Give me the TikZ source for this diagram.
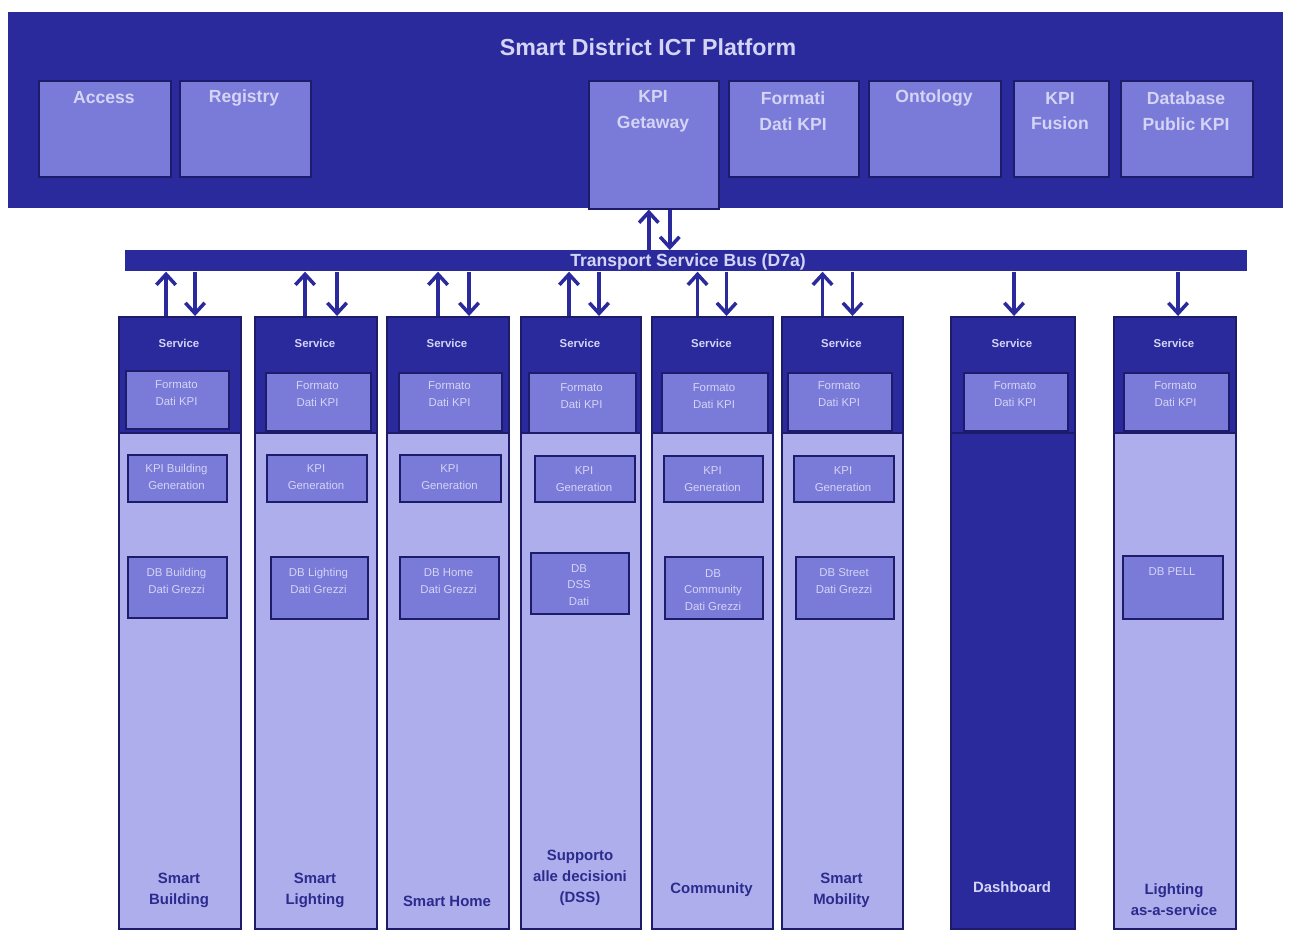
\documentclass[tikz,border=0pt]{standalone}
\usepackage{fontspec}
\setmainfont{Liberation Sans}
\usepackage{tikz}
\usetikzlibrary{arrows.meta}

\definecolor{platblue}{HTML}{2A2A9C}
\definecolor{edgeblue}{HTML}{1C1C6A}
\definecolor{midblue}{HTML}{7A7AD8}
\definecolor{paleblue}{HTML}{AEAEEC}
\definecolor{lighttext}{HTML}{D4D4F6}
\definecolor{darktext}{HTML}{2B2B8E}

\tikzset{
  platform/.style={rectangle, anchor=north west, inner sep=0pt, fill=platblue},
  pane/.style={rectangle, anchor=north west, inner sep=0pt, fill=midblue, draw=edgeblue, line width=0.9pt},
  column/.style={rectangle, anchor=north west, inner sep=0pt, fill=paleblue, draw=edgeblue, line width=1.2pt, minimum height=12.24cm},
  header/.style={rectangle, anchor=north west, inner sep=0pt, fill=platblue, draw=edgeblue, line width=1.2pt, minimum height=2.32cm},
  titletxt/.style={inner sep=0pt, text=lighttext, font=\bfseries\fontsize{13.2}{16}\selectfont},
  panetxt/.style={inner sep=0pt, align=center, text=lighttext, font=\bfseries\fontsize{10}{14.7}\selectfont},
  svctxt/.style={inner sep=0pt, text=lighttext, font=\bfseries\fontsize{6.5}{8}\selectfont},
  tinytxt/.style={inner sep=0pt, align=center, text=lighttext, font=\fontsize{6.5}{9.5}\selectfont},
  colname/.style={inner sep=0pt, align=center, text=darktext, font=\bfseries\fontsize{8.5}{12}\selectfont},
  arr/.style={draw=platblue, line width=2pt, -{Straight Barb[length=6pt,width=11pt]}}
}

\begin{document}
\begin{tikzpicture}[x=0.02cm, y=-0.02cm]
    \fill[white] (0,0) rectangle (1290,930);
    \useasboundingbox (0,0) rectangle (1290,930);

    \node[platform, minimum width=25.5cm, minimum height=3.92cm] (plat) at (8,12) {};
    \node[titletxt] (title) at (648,47) {Smart District ICT Platform};

    \node[pane, minimum width=2.64cm, minimum height=1.92cm] (access) at (38,80) {};
    \node[panetxt] (taccess) at (104,98) {Access};
    \node[pane, minimum width=2.62cm, minimum height=1.92cm] (registry) at (179,80) {};
    \node[panetxt] (tregistry) at (244,98) {Registry};
    \node[pane, minimum width=2.6cm, minimum height=2.56cm] (gw) at (588,80) {};
    \node[panetxt] (tgw) at (653,111) {KPI\\Getaway};
    \node[pane, minimum width=2.6cm, minimum height=1.92cm] (formati) at (728,80) {};
    \node[panetxt] (tformati) at (793,111) {Formati\\Dati KPI};
    \node[pane, minimum width=2.64cm, minimum height=1.92cm] (ontology) at (868,80) {};
    \node[panetxt] (tontology) at (934,98) {Ontology};
    \node[pane, minimum width=1.9cm, minimum height=1.92cm] (fusion) at (1013,80) {};
    \node[panetxt] (tfusion) at (1060,111) {KPI\\Fusion};
    \node[pane, minimum width=2.64cm, minimum height=1.92cm] (dbpub) at (1120,80) {};
    \node[panetxt] (tdbpub) at (1186,111) {Database\\Public KPI};

    \node[platform, minimum width=22.44cm, minimum height=0.42cm] (bus) at (125,250) {};
    \node[panetxt] (tbus) at (688,262) {Transport Service Bus (D7a)};

    \draw[arr] ([xshift=-0.1cm]gw.south |- bus.north) -- ([xshift=-0.1cm]gw.south);
    \draw[arr] ([xshift=0.32cm]gw.south) -- ([xshift=0.32cm]gw.south |- bus.north);

    \node[column, minimum width=2.44cm] (c1) at (118,316) {};
    \node[header, minimum width=2.44cm] (h1) at (118,316) {};
    \node[svctxt] (s1) at (179,343) {Service};
    \node[pane, minimum width=2.06cm, minimum height=1.16cm] (f1) at (125,370) {};
    \node[tinytxt] (tf1) at (176.5,393) {Formato\\Dati KPI};
    \node[pane, minimum width=1.98cm, minimum height=0.94cm] (k1) at (127,454) {};
    \node[tinytxt] (tk1) at (176.5,477) {KPI Building\\Generation};
    \node[pane, minimum width=1.98cm, minimum height=1.22cm] (d1) at (127,556) {};
    \node[tinytxt] (td1) at (176.5,581) {DB Building\\Dati Grezzi};
    \node[colname] (n1) at (179,890) {Smart\\Building};

    \node[column, minimum width=2.44cm] (c2) at (254,316) {};
    \node[header, minimum width=2.44cm] (h2) at (254,316) {};
    \node[svctxt] (s2) at (315,343) {Service};
    \node[pane, minimum width=2.1cm, minimum height=1.16cm] (f2) at (265,372) {};
    \node[tinytxt] (tf2) at (317.5,394) {Formato\\Dati KPI};
    \node[pane, minimum width=2cm, minimum height=0.94cm] (k2) at (266,454) {};
    \node[tinytxt] (tk2) at (316,477) {KPI\\Generation};
    \node[pane, minimum width=1.94cm, minimum height=1.24cm] (d2) at (270,556) {};
    \node[tinytxt] (td2) at (318.5,581) {DB Lighting\\Dati Grezzi};
    \node[colname] (n2) at (315,890) {Smart\\Lighting};

    \node[column, minimum width=2.44cm] (c3) at (386,316) {};
    \node[header, minimum width=2.44cm] (h3) at (386,316) {};
    \node[svctxt] (s3) at (447,343) {Service};
    \node[pane, minimum width=2.06cm, minimum height=1.16cm] (f3) at (398,372) {};
    \node[tinytxt] (tf3) at (449.5,394) {Formato\\Dati KPI};
    \node[pane, minimum width=2.02cm, minimum height=0.94cm] (k3) at (399,454) {};
    \node[tinytxt] (tk3) at (449.5,477) {KPI\\Generation};
    \node[pane, minimum width=1.98cm, minimum height=1.24cm] (d3) at (399,556) {};
    \node[tinytxt] (td3) at (448.5,581) {DB Home\\Dati Grezzi};
    \node[colname] (n3) at (447,901) {Smart Home};

    \node[column, minimum width=2.4cm] (c4) at (520,316) {};
    \node[header, minimum width=2.4cm] (h4) at (520,316) {};
    \node[svctxt] (s4) at (580,343) {Service};
    \node[pane, minimum width=2.14cm, minimum height=1.2cm] (f4) at (528,372) {};
    \node[tinytxt] (tf4) at (581.5,396) {Formato\\Dati KPI};
    \node[pane, minimum width=2cm, minimum height=0.92cm] (k4) at (534,455) {};
    \node[tinytxt] (tk4) at (584,479) {KPI\\Generation};
    \node[pane, minimum width=1.96cm, minimum height=1.22cm] (d4) at (530,552) {};
    \node[tinytxt] (td4) at (579,585) {DB\\DSS\\Dati};
    \node[colname] (n4) at (580,878) {Supporto\\alle decisioni\\(DSS)};

    \node[column, minimum width=2.42cm] (c5) at (651,316) {};
    \node[header, minimum width=2.42cm] (h5) at (651,316) {};
    \node[svctxt] (s5) at (711.5,343) {Service};
    \node[pane, minimum width=2.12cm, minimum height=1.2cm] (f5) at (661,372) {};
    \node[tinytxt] (tf5) at (714,396) {Formato\\Dati KPI};
    \node[pane, minimum width=1.98cm, minimum height=0.92cm] (k5) at (663,455) {};
    \node[tinytxt] (tk5) at (712.5,479) {KPI\\Generation};
    \node[pane, minimum width=1.96cm, minimum height=1.24cm] (d5) at (664,556) {};
    \node[tinytxt] (td5) at (713,590) {DB\\Community\\Dati Grezzi};
    \node[colname] (n5) at (711.5,890) {Community};

    \node[column, minimum width=2.42cm] (c6) at (781,316) {};
    \node[header, minimum width=2.42cm] (h6) at (781,316) {};
    \node[svctxt] (s6) at (841.5,343) {Service};
    \node[pane, minimum width=2.08cm, minimum height=1.16cm] (f6) at (787,372) {};
    \node[tinytxt] (tf6) at (839,394) {Formato\\Dati KPI};
    \node[pane, minimum width=2cm, minimum height=0.92cm] (k6) at (793,455) {};
    \node[tinytxt] (tk6) at (843,479) {KPI\\Generation};
    \node[pane, minimum width=1.96cm, minimum height=1.24cm] (d6) at (795,556) {};
    \node[tinytxt] (td6) at (844,581) {DB Street\\Dati Grezzi};
    \node[colname] (n6) at (841.5,890) {Smart\\Mobility};

    \node[column, fill=platblue, minimum width=2.48cm] (c7) at (950,316) {};
    \node[header, minimum width=2.48cm] (h7) at (950,316) {};
    \node[svctxt] (s7) at (1012,343) {Service};
    \node[pane, minimum width=2.08cm, minimum height=1.16cm] (f7) at (963,372) {};
    \node[tinytxt] (tf7) at (1015,394) {Formato\\Dati KPI};
    \node[colname, text=lighttext] (n7) at (1012,887) {Dashboard};

    \node[column, minimum width=2.44cm] (c8) at (1113,316) {};
    \node[header, minimum width=2.44cm] (h8) at (1113,316) {};
    \node[svctxt] (s8) at (1174,343) {Service};
    \node[pane, minimum width=2.1cm, minimum height=1.16cm] (f8) at (1123,372) {};
    \node[tinytxt] (tf8) at (1175.5,394) {Formato\\Dati KPI};
    \node[pane, minimum width=2cm, minimum height=1.26cm] (d8) at (1122,555) {};
    \node[tinytxt] (td8) at (1172,572) {DB PELL};
    \node[colname] (n8) at (1174,900) {Lighting\\as-a-service};

    \draw[arr] ([xshift=-0.28cm]c1.north) -- ([xshift=-0.28cm]c1.north |- bus.south);
    \draw[arr] ([xshift=0.3cm]c1.north |- bus.south) -- ([xshift=0.3cm]c1.north);
    \draw[arr] ([xshift=-0.22cm]c2.north) -- ([xshift=-0.22cm]c2.north |- bus.south);
    \draw[arr] ([xshift=0.42cm]c2.north |- bus.south) -- ([xshift=0.42cm]c2.north);
    \draw[arr] ([xshift=-0.2cm]c3.north) -- ([xshift=-0.2cm]c3.north |- bus.south);
    \draw[arr] ([xshift=0.42cm]c3.north |- bus.south) -- ([xshift=0.42cm]c3.north);
    \draw[arr] ([xshift=-0.24cm]c4.north) -- ([xshift=-0.24cm]c4.north |- bus.south);
    \draw[arr] ([xshift=0.36cm]c4.north |- bus.south) -- ([xshift=0.36cm]c4.north);
    \draw[arr] ([xshift=-0.3cm]c5.north) -- ([xshift=-0.3cm]c5.north |- bus.south);
    \draw[arr] ([xshift=0.28cm]c5.north |- bus.south) -- ([xshift=0.28cm]c5.north);
    \draw[arr] ([xshift=-0.4cm]c6.north) -- ([xshift=-0.4cm]c6.north |- bus.south);
    \draw[arr] ([xshift=0.2cm]c6.north |- bus.south) -- ([xshift=0.2cm]c6.north);
    \draw[arr] ([xshift=0.02cm]c7.north |- bus.south) -- ([xshift=0.02cm]c7.north);
    \draw[arr] ([xshift=0.06cm]c8.north |- bus.south) -- ([xshift=0.06cm]c8.north);
\end{tikzpicture}
\end{document}
